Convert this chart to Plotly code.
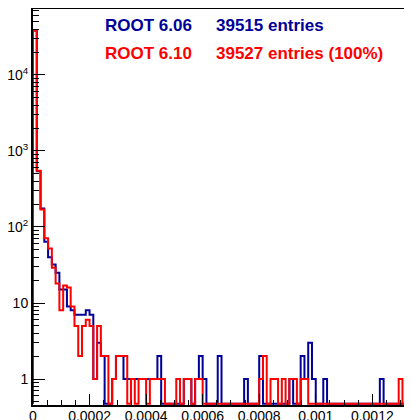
import numpy as np
import plotly.graph_objects as go

# ---------------- data ----------------
x_min = 0.0
x_max = 0.0013333
n_bins = 100

# ROOT 6.06 (blue) bin contents, 100 bins
counts_606 = [
    38513, 540, 175, 64, 40, 32, 25, 15, 15, 9,
    8, 7, 7, 7, 8, 7, 1, 3, 2, 0,
    0, 1, 2, 2, 1, 1, 1, 1, 1, 1,
    1, 1, 1, 2, 0, 0, 0, 0, 0, 0,
    1, 1, 0, 1, 2, 1, 0, 0, 0, 2,
    0, 0, 0, 0, 0, 0, 1, 0, 0, 0,
    2, 0, 0, 0, 0, 0, 0, 0, 1, 0,
    0, 2, 1, 3, 1, 0, 0, 1, 0, 0,
    0, 0, 0, 0, 0, 0, 0, 0, 0, 0,
    0, 0, 1, 0, 0, 0, 0, 0, 0, 0,
]

# ROOT 6.10 (red) bin contents, 100 bins
counts_610 = [
    38523, 551, 170, 71, 52, 29, 18, 8, 17, 16,
    9, 5, 2, 5, 6, 5, 1, 5, 2, 2,
    0, 1, 2, 2, 2, 0, 1, 0, 1, 1,
    0, 1, 1, 1, 1, 0, 0, 0, 1, 0,
    1, 1, 0, 1, 1, 0, 0, 0, 0, 0,
    0, 0, 0, 0, 0, 0, 0, 0, 0, 0,
    1, 2, 0, 1, 1, 0, 1, 0, 1, 1,
    0, 1, 1, 0, 0, 0, 0, 0, 0, 0,
    0, 0, 0, 0, 0, 0, 0, 0, 0, 0,
    0, 0, 0, 0, 0, 0, 0, 1, 0, 0,
]

label_606 = "ROOT 6.06"
entries_606 = "39515 entries"
label_610 = "ROOT 6.10"
entries_610 = "39527 entries (100%)"

x_tick_vals = [0, 0.0002, 0.0004, 0.0006, 0.0008, 0.001, 0.0012]
x_tick_text = ["0", "0.0002", "0.0004", "0.0006", "0.0008", "0.001", "0.0012"]
y_tick_vals = [1, 10, 100, 1000, 10000]
y_tick_text = ["1", "10", "10<sup>2</sup>", "10<sup>3</sup>", "10<sup>4</sup>"]

# ---------------- style ----------------
BLUE = "#000099"
RED = "#ff0000"
PAGE_OFF = 8            # default body margin of the page
W, H = 412 - PAGE_OFF, 420 - PAGE_OFF
ML, MR, MT, MB = 33 - PAGE_OFF, 2, 9 - PAGE_OFF, 15
y_log_range = [-0.342, 4.868]
floor_val = 10 ** (y_log_range[0] + 0.018)  # zero bins sit on the frame bottom


def step_xy(counts):
    edges = np.linspace(x_min, x_max, n_bins + 1)
    vals = [c if c > 0 else floor_val for c in counts]
    xs = [edges[0]] + list(edges[:-1]) + [edges[-1], edges[-1]]
    ys = [floor_val] + vals + [vals[-1], floor_val]
    return xs, ys


fig = go.Figure()
for counts, color in ((counts_606, BLUE), (counts_610, RED)):
    xs, ys = step_xy(counts)
    fig.add_trace(go.Scatter(x=xs, y=ys, mode="lines", line_shape="hv",
                             line=dict(color=color, width=2), hoverinfo="skip",
                             showlegend=False))

minor_y = [m * 10 ** k for k in range(-1, 5) for m in range(2, 10)]
minor_y = [v for v in minor_y if 10 ** y_log_range[0] < v < 10 ** y_log_range[1]]

fig.update_xaxes(range=[x_min, x_max], tickmode="array", tickvals=x_tick_vals,
                 ticktext=x_tick_text, ticks="inside", ticklen=11, tickwidth=1,
                 tickcolor="black", showline=True, linewidth=2, linecolor="black",
                 mirror=True, showgrid=False, zeroline=False, automargin=False,
                 ticklabelstandoff=-3,
                 tickfont=dict(family="Liberation Sans, Arial", size=14, color="black"),
                 minor=dict(ticks="inside", ticklen=5, tickwidth=1, tickcolor="black",
                            dtick=0.00005, tick0=0, showgrid=False))
fig.update_yaxes(type="log", range=y_log_range, tickmode="array",
                 tickvals=y_tick_vals, ticktext=y_tick_text, ticks="inside",
                 ticklen=12, tickwidth=1, tickcolor="black", showline=True,
                 linewidth=2, linecolor="black", mirror=True, showgrid=False,
                 zeroline=False, automargin=False,
                 tickfont=dict(family="Liberation Sans, Arial", size=14, color="black"),
                 minor=dict(ticks="inside", ticklen=6, tickwidth=1, tickcolor="black",
                            tickmode="array", tickvals=minor_y, showgrid=False))


def px_to_paper(px, py):
    # px, py are window pixels
    fx = px - PAGE_OFF
    fy = py - PAGE_OFF
    return (fx - ML) / (W - ML - MR), (H - MB - fy) / (H - MT - MB)


texts = [
    (label_606, 103, 25, BLUE), (entries_606, 214, 25, BLUE),
    (label_610, 103, 53, RED), (entries_610, 214, 53, RED),
]
for t, px, py, col in texts:
    ax, ay = px_to_paper(px, py)
    fig.add_annotation(x=ax, y=ay, xref="paper", yref="paper", text="<b>%s</b>" % t,
                       showarrow=False, xanchor="left", yanchor="middle",
                       font=dict(family="Liberation Sans, Arial", size=17, color=col))

fig.update_layout(width=W, height=H, margin=dict(l=ML, r=MR, t=MT, b=MB),
                  paper_bgcolor="white", plot_bgcolor="white")

fig.write_html("out.html")
